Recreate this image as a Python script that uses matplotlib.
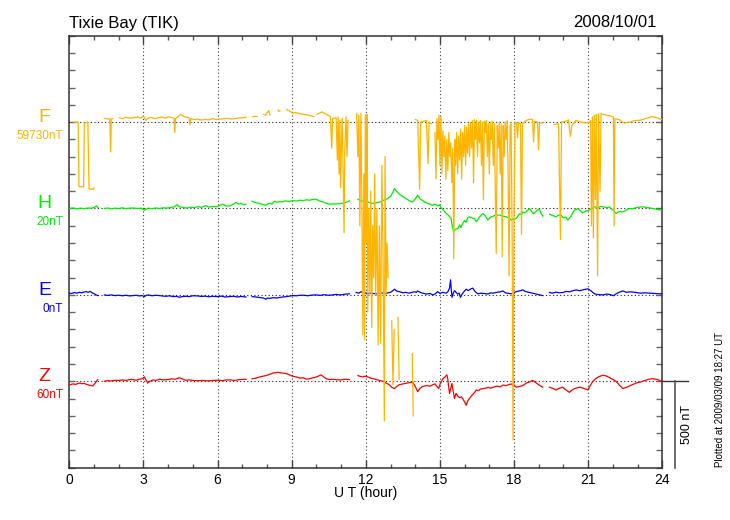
import numpy as np
import matplotlib
matplotlib.use("Agg")
import matplotlib.pyplot as plt
from matplotlib import transforms
from matplotlib.ticker import MultipleLocator

plt.rcParams['font.family'] = ['Liberation Sans', 'DejaVu Sans']

nan = np.nan

station = "Tixie Bay (TIK)"
date = "2008/10/01"
plotted = "Plotted at 2009/03/09 18:27 UT"
names = ["F", "H", "E", "Z"]
offsets = ["59730nT", "20nT", "0nT", "60nT"]
baselines = [2000, 1500, 1000, 500]
colors = ["#ffb400", "#00ee00", "#0000ff", "#ff0000"]
scale_nt = 500

# deviations from baseline (nT) as (hour, nT) pairs, nan = data gap
f_pts = [(0.20, 0), (0.36, 0), (0.39, -374), (0.58, -374), (0.61, -5), (0.75, 0),
         (0.80, -388), (0.99, -388), (1.00, -380), (nan, nan),
         (1.42, 22), (1.55, 18), (1.64, 20), (1.67, -173), (1.70, 15), (1.75, 20),
         (nan, nan),
         (2.03, 25), (2.15, 20), (2.3, 28), (2.45, 22), (2.6, 25), (2.75, 30),
         (2.9, 24), (3.0, 35), (3.1, 10), (3.2, 22), (3.3, 28), (3.45, 20),
         (3.6, 25), (3.75, 30), (3.9, 22), (4.0, 30), (4.1, 28), (4.24, 22),
         (4.27, -60), (4.30, 20), (4.4, 30), (4.5, 45), (4.6, 35), (4.7, 30),
         (4.85, 25), (4.88, -15), (4.92, 20), (5.05, 15), (5.2, 17), (5.35, 12),
         (5.5, 15), (5.65, 13), (5.8, 20), (5.95, 15), (6.1, 18), (6.25, 20),
         (6.4, 22), (6.55, 18), (6.7, 20), (6.85, 24), (7.0, 25), (7.16, 28),
         (nan, nan),
         (7.42, 30), (7.5, 34), (7.6, 32), (nan, nan),
         (7.87, 45), (7.94, 40), (8.0, 52), (8.07, 67), (8.12, 42), (nan, nan),
         (8.45, 70), (8.48, 62), (8.52, 65), (nan, nan),
         (8.80, 72), (8.9, 66), (9.04, 52), (9.15, 55), (9.3, 50), (9.45, 45),
         (9.6, 42), (9.75, 38), (9.89, 32), (nan, nan),
         (10.03, 45), (10.12, 52), (10.23, 59), (10.34, 50), (10.44, 42),
         (10.57, 32), (10.62, -150),
         (10.66, 20), (10.80, 25), (10.85, -220), (10.88, 30), (10.92, -300),
         (10.95, 10), (10.98, -380), (11.02, -100), (11.05, 20), (11.08, -250),
         (11.12, -640), (11.15, -150), (11.20, 30), (11.24, -200), (11.28, 10),
         (nan, nan),
         (11.63, 50), (11.68, -200), (11.72, 40), (11.76, -600), (11.80, 50),
         (11.84, -450), (11.88, -1230), (11.92, -300), (11.95, -1260), (11.98, 40),
         (12.02, -700), (12.05, 45), (12.08, -1100), (12.12, -500), (12.16, -1000),
         (12.20, -400), (12.24, -1190), (12.28, -600), (12.32, -900), (12.36, -300),
         (12.40, -1000), (12.45, -500), (12.50, -1290), (12.55, -600), (12.60, -1280),
         (12.65, -250), (12.70, -800), (12.75, -1730), (12.78, -200), (12.82, -1000),
         (12.86, -700), (12.90, -900), (nan, nan),
         (13.05, -1150), (13.10, -1520), (13.15, -1200), (nan, nan),
         (13.30, -1130), (13.35, -1490), (nan, nan),
         (13.88, -1340), (13.92, -1700), (nan, nan),
         (14.00, 15), (14.10, 10), (14.18, -390), (14.22, 0), (14.35, 5), (14.45, 10),
         (14.52, -240), (14.56, 0), (14.65, -10), (nan, nan),
         (14.80, -60), (14.84, -330), (14.88, 20), (14.92, -100), (14.96, 40),
         (15.00, -250), (15.04, 30), (15.08, -300), (15.12, -50), (15.16, -200),
         (15.20, -80), (15.24, -330), (15.28, -100), (15.32, -280), (15.36, -60),
         (15.40, -200), (15.44, -120), (15.48, -350), (15.52, -150), (15.56, -790),
         (15.60, -100), (15.64, -250), (15.68, -60), (15.72, -300), (15.76, -80),
         (15.80, -220), (15.84, -40), (15.88, -330), (15.92, -60), (15.96, -200),
         (16.00, -20), (16.04, -250), (16.08, -30), (16.12, -180), (16.16, -10),
         (16.20, -200), (16.24, 0), (16.28, -150), (16.32, 10), (16.36, -350),
         (16.40, 15), (16.44, -100), (16.48, 10), (16.52, -200), (16.56, 0),
         (16.60, -120), (16.64, 10), (16.68, -250), (16.72, 0), (16.76, -450),
         (16.80, 5), (16.84, -60), (16.88, 10), (16.92, -200), (16.96, -10),
         (17.00, -300), (17.04, 0), (17.08, -100), (17.12, 5), (17.16, -250),
         (17.20, -10), (17.24, -400), (17.28, -760), (17.32, -20), (17.36, -150),
         (17.40, 0), (17.44, -300), (17.48, -10), (17.52, -780), (17.56, -20),
         (17.60, -200), (17.64, 0), (17.68, -100), (17.72, 10), (17.76, -300),
         (17.80, -890), (17.84, -20), (17.88, -10), (17.92, -600), (17.96, -1840),
         (18.00, -500), (18.04, 0), (18.10, -5), (18.14, -90), (18.18, -5),
         (18.26, -10), (18.30, -650), (18.34, -10), (18.5, 10), (18.65, 17),
         (18.75, 15), (18.79, -115), (18.83, 5), (18.95, 0), (18.99, -160),
         (19.03, -5), (19.12, -5), (nan, nan),
         (19.62, -14), (19.8, -10), (19.88, -680), (19.92, 0), (20.1, 5),
         (20.2, 13), (20.28, -83), (20.34, -20), (20.5, 10), (20.7, 0), (20.9, -5),
         (21.05, -3), (21.10, 9), (21.13, -600), (21.17, 30), (21.21, -670),
         (21.25, 40), (21.29, -450), (21.33, 45), (21.38, -890), (21.42, 48),
         (21.48, -400), (21.52, 48), (21.6, 45), (21.75, 40), (21.9, 35),
         (22.02, 30), (22.05, -600), (22.08, 20), (22.25, 15), (22.35, 5),
         (22.45, -6), (22.55, -2), (22.7, 0), (22.85, 8), (23.0, 10), (23.15, 12),
         (23.3, 20), (23.45, 25), (23.57, 32), (23.7, 28), (23.8, 25), (23.9, 18),
         (24.0, 15)]

h_pts = [(0.0, 0), (0.15, 3), (0.3, -2), (0.45, 2), (0.6, -1), (0.75, 3), (0.9, 2),
         (1.0, 6), (1.1, 15), (1.16, 5), (nan, nan),
         (1.42, 0), (1.55, 3), (1.7, -2), (1.85, 2), (2.0, 0), (2.15, 4), (2.3, -1),
         (2.45, 2), (2.6, 3), (2.75, 0), (2.9, 2), (3.04, -10), (3.12, -3), (3.2, 2),
         (3.35, -1), (3.5, 3), (3.65, 0), (3.8, 4), (3.95, 2), (4.1, 6), (4.25, 10),
         (4.36, 22), (4.45, 10), (4.6, 6), (4.75, 3), (4.9, 8), (5.05, 5), (5.2, 10),
         (5.35, 7), (5.53, 17), (5.65, 8), (5.8, 12), (5.95, 10), (6.1, 18),
         (6.21, 25), (6.35, 14), (6.48, 15), (6.6, 22), (6.75, 35), (6.85, 25),
         (6.95, 30), (7.05, 22), (7.15, 25), (nan, nan),
         (7.4, 42), (7.5, 35), (7.6, 32), (7.69, 30), (7.8, 25), (7.9, 20), (7.96, 19),
         (8.05, 28), (8.1, 30), (8.2, 25), (8.3, 42), (8.4, 36), (8.5, 40), (8.6, 38),
         (8.75, 44), (8.9, 40), (9.04, 46), (9.2, 43), (9.35, 48), (9.45, 46),
         (9.6, 50), (9.72, 48), (9.85, 52), (9.99, 54), (10.1, 45), (10.26, 38),
         (10.4, 30), (10.53, 25), (10.65, 27), (10.8, 26), (10.95, 28), (11.07, 31),
         (11.2, 36), (11.34, 44), (nan, nan),
         (11.68, 54), (11.78, 45), (11.88, 42), (12.0, 40), (12.08, 38), (12.18, 33),
         (12.28, 29), (12.4, 32), (12.5, 35), (12.6, 40), (12.69, 46), (12.8, 52),
         (12.89, 58), (13.0, 70), (13.08, 90), (13.16, 116), (13.25, 98), (13.36, 83),
         (13.48, 70), (13.6, 60), (13.75, 45), (13.9, 38), (14.0, 55), (14.1, 77),
         (14.2, 55), (14.3, 46), (14.4, 35), (14.51, 29), (14.6, 25), (14.71, 19),
         (14.8, 25), (14.91, 15), (14.98, 20), (15.05, 4), (15.15, -10), (15.25, -29),
         (15.35, -40), (15.45, -58), (15.5, -100), (15.55, -135), (15.62, -120),
         (15.72, -116), (15.8, -95), (15.85, -110), (15.92, -87), (16.0, -70),
         (16.06, -80), (16.12, -55), (16.19, -48), (16.3, -55), (16.4, -58),
         (16.47, -77), (16.6, -50), (16.74, -29), (16.85, -45), (16.94, -67),
         (17.05, -50), (17.14, -45), (17.25, -40), (17.41, -38), (17.55, -45),
         (17.68, -48), (17.8, -55), (17.88, -67), (18.0, -60), (18.09, -58),
         (18.22, -30), (18.3, -35), (18.35, -20), (18.45, -25), (18.55, -10),
         (18.62, 0), (18.7, -15), (18.78, -30), (18.83, -25), (18.95, -8),
         (19.03, -5), (19.1, -30), (19.16, -44), (nan, nan),
         (19.43, -33), (19.55, -40), (19.7, -48), (19.8, -38), (19.91, -40),
         (20.0, -55), (20.1, -50), (20.18, -67), (20.3, -45), (20.4, -20),
         (20.45, -10), (20.58, 0), (20.7, -15), (20.78, -25), (20.9, -15),
         (20.99, -12), (21.1, -5), (21.2, 5), (21.26, 10), (21.4, 5), (21.5, 12),
         (21.6, 10), (21.75, 5), (21.85, 8), (21.93, 0), (22.05, -15), (22.13, -29),
         (22.25, -18), (22.4, -20), (22.55, -8), (22.67, 0), (22.8, -2), (22.94, 5),
         (23.1, 8), (23.21, 10), (23.35, 6), (23.5, 3), (23.61, 0), (23.8, -5),
         (23.99, -10)]

e_pts = [(0.0, 10), (0.1, 8), (0.2, 14), (0.3, 10), (0.41, 15), (0.5, 12), (0.6, 17),
         (0.68, 19), (0.76, 15), (0.85, 20), (0.95, 10), (1.05, 3), (1.15, -4),
         (nan, nan),
         (1.42, 0), (1.55, -3), (1.7, 0), (1.85, -4), (2.0, -2), (2.15, -5),
         (2.3, -2), (2.45, -6), (2.57, -4), (2.7, -2), (2.85, -6), (2.95, -4),
         (3.04, -10), (3.12, -2), (3.2, 0), (3.35, -5), (3.5, -2), (3.65, -4),
         (3.8, -7), (3.92, -8), (4.05, -5), (4.2, -10), (4.35, -8), (4.45, -14),
         (4.55, -10), (4.72, -8), (4.85, -10), (5.0, -5), (5.2, -6), (5.35, -9),
         (5.5, -7), (5.65, -11), (5.8, -8), (6.0, -10), (6.15, -7), (6.3, -12),
         (6.5, -10), (6.65, -8), (6.8, -12), (6.95, -9), (7.15, -12), (nan, nan),
         (7.4, -10), (7.55, -12), (7.7, -15), (7.85, -18), (7.96, -25), (8.02, -18),
         (8.1, -20), (8.25, -16), (8.4, -18), (8.5, -15), (8.65, -12), (8.8, -10),
         (8.95, -6), (9.04, -4), (9.2, -5), (9.35, -2), (9.5, -2), (9.65, -5),
         (9.8, -1), (9.99, 0), (10.15, -3), (10.3, 1), (10.5, -2), (10.66, 0),
         (10.8, 3), (10.95, 0), (11.07, 2), (11.2, 5), (11.34, 6), (nan, nan),
         (11.61, 14), (11.72, 10), (11.8, 18), (11.88, 16), (11.98, 12), (12.08, 8),
         (12.2, 10), (12.3, 8), (12.45, 6), (12.6, 12), (12.69, 10), (12.8, 8),
         (12.9, 12), (13.0, 15), (13.1, 25), (13.16, 33), (13.25, 22), (13.36, 19),
         (13.5, 12), (13.6, 15), (13.75, 10), (13.85, 14), (13.97, 18), (14.05, 15),
         (14.1, 23), (14.2, 15), (14.3, 10), (14.45, 5), (14.6, 8), (14.71, 0),
         (14.8, 5), (14.91, 19), (15.0, 8), (15.1, 15), (15.25, 10), (15.33, 20),
         (15.39, 40), (15.43, 87), (15.46, 30), (15.49, -14), (15.54, 10),
         (15.59, 25), (15.65, 15), (15.72, 5), (15.78, 10), (15.83, -14), (15.9, 5),
         (15.98, 20), (16.06, 33), (16.15, 25), (16.25, 35), (16.33, 39),
         (16.42, 20), (16.53, 6), (16.65, 10), (16.8, 8), (16.95, 5), (17.05, 12),
         (17.14, 10), (17.3, 15), (17.45, 18), (17.55, 23), (17.65, 12), (17.8, 8),
         (17.95, 6), (18.02, 15), (18.09, 19), (18.2, 22), (18.35, 29), (18.45, 20),
         (18.6, 15), (18.76, 10), (18.9, 5), (19.05, 0), (19.16, -4), (nan, nan),
         (19.43, 14), (19.55, 10), (19.7, 16), (19.85, 12), (19.97, 14), (20.1, 20),
         (20.25, 18), (20.4, 25), (20.51, 29), (20.65, 24), (20.8, 30), (20.99, 35),
         (21.1, 25), (21.26, 6), (21.4, 2), (21.6, 0), (21.75, 5), (21.9, 2),
         (22.02, -5), (22.13, 6), (22.25, 15), (22.4, 23), (22.55, 15), (22.7, 18),
         (22.94, 14), (23.1, 10), (23.3, 12), (23.5, 10), (23.7, 8), (23.99, 6)]

z_pts = [(0.0, -23), (0.07, -18), (0.14, -15), (0.25, -18), (0.41, -10), (0.5, -14),
         (0.6, -12), (0.68, -17), (0.8, -22), (0.95, -27), (1.05, -10), (1.15, 10),
         (nan, nan),
         (1.42, 0), (1.55, 4), (1.7, 2), (1.85, 6), (2.0, 5), (2.15, 8), (2.3, 5),
         (2.45, 10), (2.57, 10), (2.7, 6), (2.85, 12), (2.95, 15), (3.04, 25),
         (3.1, 10), (3.17, -10), (3.25, 0), (3.4, 8), (3.5, 5), (3.65, 12), (3.8, 8),
         (4.0, 10), (4.15, 14), (4.3, 12), (4.45, 21), (4.55, 15), (4.72, 6),
         (4.85, 8), (5.0, 5), (5.2, 3), (5.4, 5), (5.6, 2), (5.8, 5), (6.0, 6),
         (6.2, 4), (6.35, 8), (6.5, 8), (6.7, 5), (6.9, 10), (7.15, 12), (nan, nan),
         (7.4, 15), (7.55, 18), (7.7, 25), (7.85, 30), (7.96, 33), (8.1, 40),
         (8.25, 48), (8.44, 52), (8.6, 48), (8.77, 45), (8.9, 38), (9.04, 29),
         (9.2, 25), (9.35, 18), (9.45, 21), (9.6, 12), (9.72, 15), (9.85, 20),
         (10.0, 25), (10.19, 37), (10.3, 25), (10.4, 15), (10.53, 10), (10.7, 12),
         (10.85, 8), (11.0, 8), (11.15, 12), (11.34, 10), (nan, nan),
         (11.68, 33), (11.78, 28), (11.88, 25), (11.98, 30), (12.08, 25), (12.2, 18),
         (12.3, 15), (12.42, 10), (12.55, 5), (12.7, 0), (12.82, -10), (12.95, -20),
         (13.05, -35), (13.16, -42), (13.25, -30), (13.35, -20), (13.5, -15),
         (13.6, -12), (13.75, -8), (13.9, -5), (14.0, -30), (14.1, -60), (14.2, -40),
         (14.3, -30), (14.45, -25), (14.6, -28), (14.71, -20), (14.8, -15),
         (14.88, -30), (14.95, -42), (15.02, -10), (15.12, 15), (15.2, 25),
         (15.28, 37), (15.32, 10), (15.36, -40), (15.39, -71), (15.44, -40),
         (15.49, -13), (15.54, -60), (15.59, -100), (15.65, -70), (15.72, -85),
         (15.8, -95), (15.87, -90), (15.92, -100), (16.0, -120), (16.06, -139),
         (16.12, -115), (16.19, -100), (16.3, -80), (16.4, -65), (16.47, -50),
         (16.55, -55), (16.65, -45), (16.74, -42), (16.85, -40), (16.95, -35),
         (17.05, -40), (17.14, -35), (17.3, -28), (17.45, -32), (17.55, -22),
         (17.68, -25), (17.8, -18), (17.95, -15), (18.02, -25), (18.09, -34),
         (18.2, -30), (18.35, -25), (18.5, -10), (18.6, -5), (18.76, 5), (18.85, -5),
         (18.95, -15), (19.05, -25), (19.16, -34), (nan, nan),
         (19.43, -34), (19.55, -40), (19.7, -50), (19.8, -42), (19.97, -34),
         (20.05, -45), (20.15, -55), (20.24, -64), (20.35, -50), (20.45, -42),
         (20.55, -38), (20.65, -34), (20.8, -40), (20.9, -45), (20.99, -50),
         (21.08, -25), (21.19, 0), (21.3, 15), (21.45, 28), (21.6, 35), (21.75, 30),
         (21.9, 18), (22.0, 10), (22.13, 0), (22.25, -20), (22.4, -42), (22.55, -35),
         (22.7, -25), (22.94, -10), (23.1, -5), (23.3, 5), (23.45, 12), (23.61, 15),
         (23.8, 10), (23.99, 0)]

series = [f_pts, h_pts, e_pts, z_pts]

fig = plt.figure(figsize=(7.3, 5.2), dpi=100)
ax = fig.add_axes([69.3 / 730, 1 - 467.7 / 520, 593 / 730, 432 / 520])

# grid: vertical every 3 h, horizontal at each baseline
for h in range(3, 24, 3):
    ax.axvline(h, color='#444444', lw=0.8, ls=(0, (1, 2.2)), zorder=1)
for b in baselines:
    ax.axhline(b, color='#222222', lw=0.8, ls=(0, (1, 2.2)), zorder=1)

# draw Z first so F ends up on top
for i in [3, 2, 1, 0]:
    t, v = zip(*series[i])
    ax.plot(t, np.array(v, dtype=float) + baselines[i], color=colors[i],
            lw=0.9, zorder=3)

ax.set_xlim(0, 24)
ax.set_ylim(0, 2500)
ax.xaxis.set_major_locator(MultipleLocator(3))
ax.xaxis.set_minor_locator(MultipleLocator(1))
ax.yaxis.set_major_locator(MultipleLocator(100))
ax.tick_params(axis='x', which='major', direction='in', top=True, length=5.8,
               width=1, color='#444444', labelsize=10, pad=4)
ax.tick_params(axis='x', which='minor', direction='in', top=True, length=3,
               width=1, color='#555555')
ax.tick_params(axis='y', which='major', direction='in', right=True, length=4.2,
               width=1, color='#666666', labelleft=False)
for s in ax.spines.values():
    s.set_color('#333333')
    s.set_linewidth(1.1)

ax.set_xlabel("U T (hour)", fontsize=10)
ax.xaxis.set_label_coords(0.5, -0.043)

# component names and offsets on the left
trans = transforms.blended_transform_factory(fig.transFigure, ax.transData)
for i in range(4):
    ax.text(44.5 / 730, baselines[i], names[i], transform=trans, ha='center',
            va='baseline', fontsize=14, color=colors[i])
    ax.text(63 / 730, baselines[i] - 80, offsets[i], transform=trans,
            ha='right', va='center', fontsize=8.5, color=colors[i])

# 500 nT scale bar at the right
px = 24 / 593
ax.plot([24, 24 + 26 * px], [baselines[3], baselines[3]], color='#333333',
        lw=1, clip_on=False)
ax.plot([24 + 13 * px, 24 + 13 * px], [baselines[3] - scale_nt, baselines[3]],
        color='#555555', lw=1.2, clip_on=False)
ax.text(24 + 25 * px, baselines[3] - scale_nt / 2, "500 nT", rotation=90,
        ha='center', va='center', fontsize=9)

fig.text(69.3 / 730, 1 - 28 / 520, station, ha='left', va='baseline', fontsize=12)
fig.text(657 / 730, 1 - 27 / 520, date, ha='right', va='baseline', fontsize=12)
fig.text(720 / 730, 1 - 467 / 520, plotted, rotation=90, ha='center',
         va='bottom', fontsize=7)

fig.savefig("out.png", dpi=100)
